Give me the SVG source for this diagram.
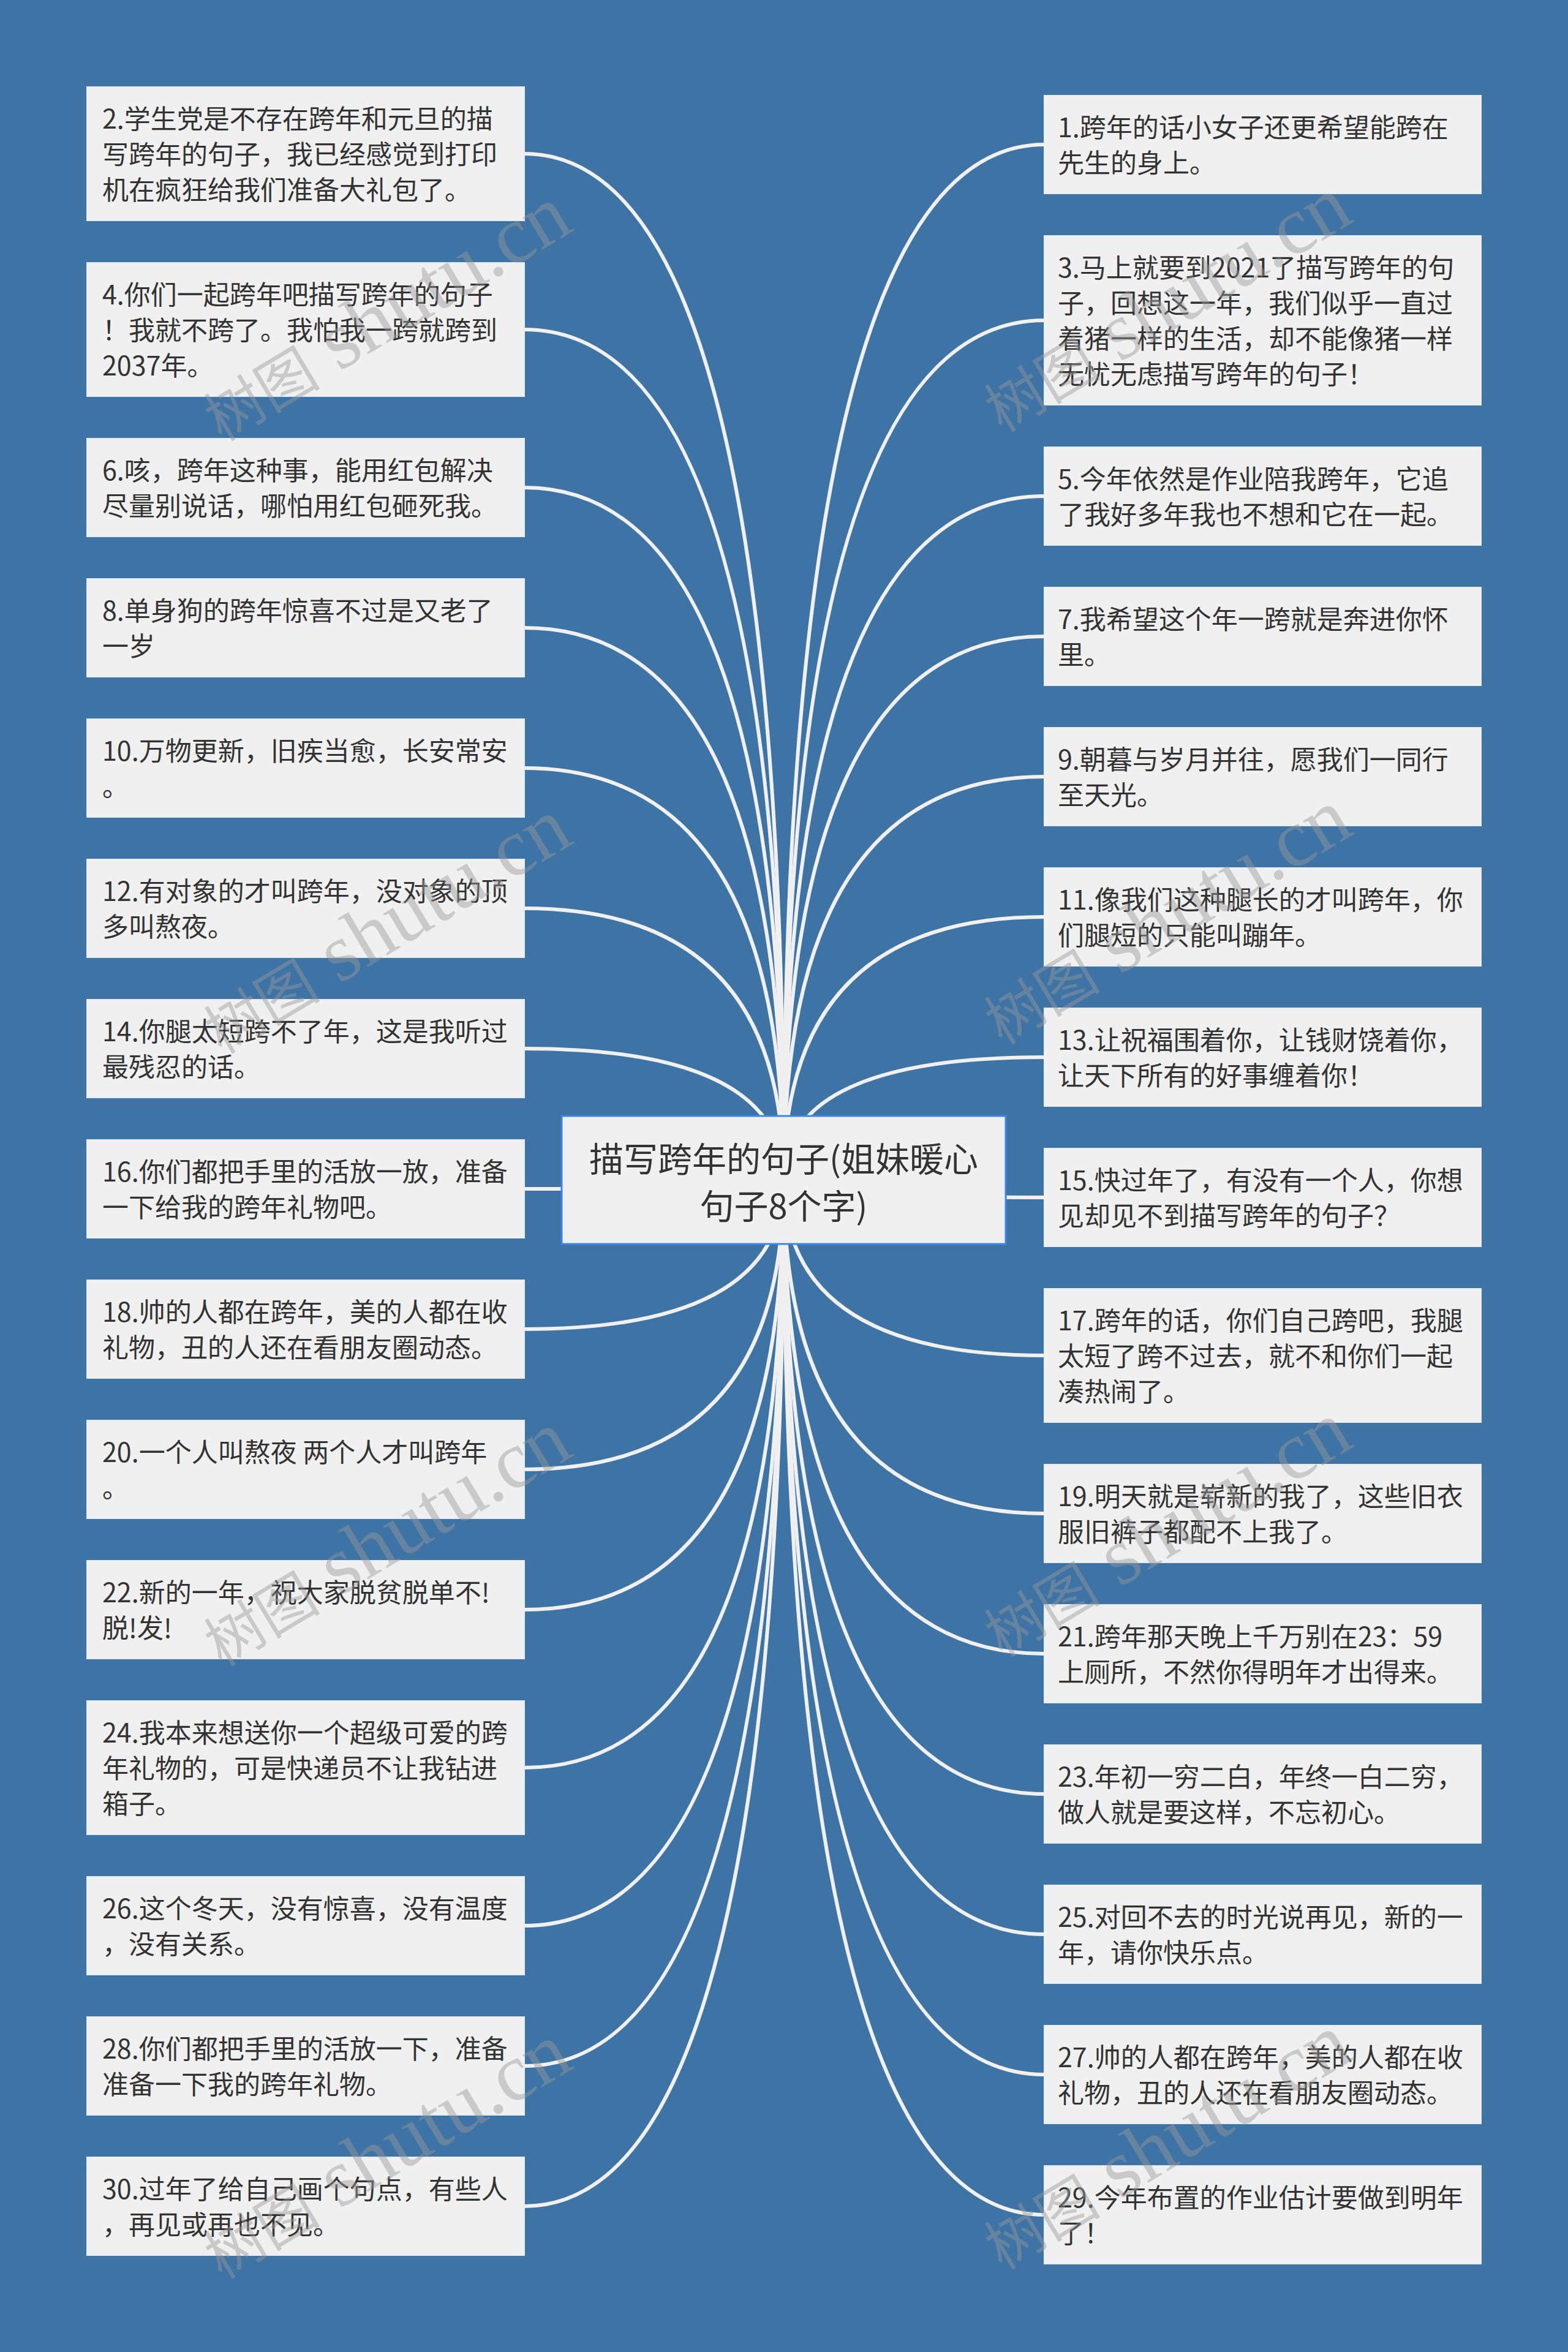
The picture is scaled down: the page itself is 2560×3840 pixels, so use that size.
<svg xmlns="http://www.w3.org/2000/svg" width="2560" height="3840" viewBox="0 0 2560 3840">
<style>
.bg{fill:#3d73a5}
.box{fill:#f0f0f0;stroke:#e6edf4;stroke-width:2}
.root{fill:#f0f0f0;stroke:#3c86e6;stroke-width:3}
.t{font-family:"Noto Sans CJK SC","Noto Sans",sans-serif;font-size:43px;fill:#333333}
.rt{font-family:"Noto Sans CJK SC","Noto Sans",sans-serif;font-size:56px;fill:#333333;text-anchor:middle}
.c{fill:none;stroke:#f0f0f0;stroke-width:6}
.wm{font-family:"Liberation Serif","Noto Sans CJK SC",serif;fill:#999999;fill-opacity:0.45}
</style>
<rect class="bg" x="0" y="0" width="2560" height="3840"/>
<g id="connectors">
<path class="c" d="M1279.5 1926.5 Q1279.5 251 856 251"/>
<path class="c" d="M1279.5 1926.5 Q1279.5 538 856 538"/>
<path class="c" d="M1279.5 1926.5 Q1279.5 796 856 796"/>
<path class="c" d="M1279.5 1926.5 Q1279.5 1025 856 1025"/>
<path class="c" d="M1279.5 1926.5 Q1279.5 1254 856 1254"/>
<path class="c" d="M1279.5 1926.5 Q1279.5 1483 856 1483"/>
<path class="c" d="M1279.5 1926.5 Q1279.5 1712 856 1712"/>
<path class="c" d="M1279.5 1926.5 Q1279.5 1941 856 1941"/>
<path class="c" d="M1279.5 1926.5 Q1279.5 2170 856 2170"/>
<path class="c" d="M1279.5 1926.5 Q1279.5 2399 856 2399"/>
<path class="c" d="M1279.5 1926.5 Q1279.5 2628 856 2628"/>
<path class="c" d="M1279.5 1926.5 Q1279.5 2886 856 2886"/>
<path class="c" d="M1279.5 1926.5 Q1279.5 3144 856 3144"/>
<path class="c" d="M1279.5 1926.5 Q1279.5 3373 856 3373"/>
<path class="c" d="M1279.5 1926.5 Q1279.5 3602 856 3602"/>
<path class="c" d="M1279.5 1926.5 Q1279.5 236 1705 236"/>
<path class="c" d="M1279.5 1926.5 Q1279.5 523 1705 523"/>
<path class="c" d="M1279.5 1926.5 Q1279.5 810 1705 810"/>
<path class="c" d="M1279.5 1926.5 Q1279.5 1039 1705 1039"/>
<path class="c" d="M1279.5 1926.5 Q1279.5 1268 1705 1268"/>
<path class="c" d="M1279.5 1926.5 Q1279.5 1497 1705 1497"/>
<path class="c" d="M1279.5 1926.5 Q1279.5 1726 1705 1726"/>
<path class="c" d="M1279.5 1926.5 Q1279.5 1955 1705 1955"/>
<path class="c" d="M1279.5 1926.5 Q1279.5 2213 1705 2213"/>
<path class="c" d="M1279.5 1926.5 Q1279.5 2471 1705 2471"/>
<path class="c" d="M1279.5 1926.5 Q1279.5 2700 1705 2700"/>
<path class="c" d="M1279.5 1926.5 Q1279.5 2929 1705 2929"/>
<path class="c" d="M1279.5 1926.5 Q1279.5 3158 1705 3158"/>
<path class="c" d="M1279.5 1926.5 Q1279.5 3387 1705 3387"/>
<path class="c" d="M1279.5 1926.5 Q1279.5 3616 1705 3616"/>
</g>
<g id="root">
<rect class="root" x="917" y="1822" width="725" height="209"/>
<text class="rt" x="1279.5" y="1913">描写跨年的句子(姐妹暖心</text>
<text class="rt" x="1279.5" y="1990">句子8个字)</text>
</g>
<g id="n2"><rect class="box" x="142" y="142" width="714" height="218"/>
<text class="t" x="167" y="210">2.学生党是不存在跨年和元旦的描</text>
<text class="t" x="167" y="268">写跨年的句子，我已经感觉到打印</text>
<text class="t" x="167" y="326">机在疯狂给我们准备大礼包了。</text></g>
<g id="n4"><rect class="box" x="142" y="429" width="714" height="218"/>
<text class="t" x="167" y="497">4.你们一起跨年吧描写跨年的句子</text>
<text class="t" x="167" y="555">！我就不跨了。我怕我一跨就跨到</text>
<text class="t" x="167" y="613">2037年。</text></g>
<g id="n6"><rect class="box" x="142" y="716" width="714" height="160"/>
<text class="t" x="167" y="784">6.咳，跨年这种事，能用红包解决</text>
<text class="t" x="167" y="842">尽量别说话，哪怕用红包砸死我。</text></g>
<g id="n8"><rect class="box" x="142" y="945" width="714" height="160"/>
<text class="t" x="167" y="1013">8.单身狗的跨年惊喜不过是又老了</text>
<text class="t" x="167" y="1071">一岁</text></g>
<g id="n10"><rect class="box" x="142" y="1174" width="714" height="160"/>
<text class="t" x="167" y="1242">10.万物更新，旧疾当愈，长安常安</text>
<text class="t" x="167" y="1300">。</text></g>
<g id="n12"><rect class="box" x="142" y="1403" width="714" height="160"/>
<text class="t" x="167" y="1471">12.有对象的才叫跨年，没对象的顶</text>
<text class="t" x="167" y="1529">多叫熬夜。</text></g>
<g id="n14"><rect class="box" x="142" y="1632" width="714" height="160"/>
<text class="t" x="167" y="1700">14.你腿太短跨不了年，这是我听过</text>
<text class="t" x="167" y="1758">最残忍的话。</text></g>
<g id="n16"><rect class="box" x="142" y="1861" width="714" height="160"/>
<text class="t" x="167" y="1929">16.你们都把手里的活放一放，准备</text>
<text class="t" x="167" y="1987">一下给我的跨年礼物吧。</text></g>
<g id="n18"><rect class="box" x="142" y="2090" width="714" height="160"/>
<text class="t" x="167" y="2158">18.帅的人都在跨年，美的人都在收</text>
<text class="t" x="167" y="2216">礼物，丑的人还在看朋友圈动态。</text></g>
<g id="n20"><rect class="box" x="142" y="2319" width="714" height="160"/>
<text class="t" x="167" y="2387">20.一个人叫熬夜 两个人才叫跨年</text>
<text class="t" x="167" y="2445">。</text></g>
<g id="n22"><rect class="box" x="142" y="2548" width="714" height="160"/>
<text class="t" x="167" y="2616">22.新的一年，祝大家脱贫脱单不!</text>
<text class="t" x="167" y="2674">脱!发!</text></g>
<g id="n24"><rect class="box" x="142" y="2777" width="714" height="218"/>
<text class="t" x="167" y="2845">24.我本来想送你一个超级可爱的跨</text>
<text class="t" x="167" y="2903">年礼物的，可是快递员不让我钻进</text>
<text class="t" x="167" y="2961">箱子。</text></g>
<g id="n26"><rect class="box" x="142" y="3064" width="714" height="160"/>
<text class="t" x="167" y="3132">26.这个冬天，没有惊喜，没有温度</text>
<text class="t" x="167" y="3190">，没有关系。</text></g>
<g id="n28"><rect class="box" x="142" y="3293" width="714" height="160"/>
<text class="t" x="167" y="3361">28.你们都把手里的活放一下，准备</text>
<text class="t" x="167" y="3419">准备一下我的跨年礼物。</text></g>
<g id="n30"><rect class="box" x="142" y="3522" width="714" height="160"/>
<text class="t" x="167" y="3590">30.过年了给自己画个句点，有些人</text>
<text class="t" x="167" y="3648">，再见或再也不见。</text></g>
<g id="n1"><rect class="box" x="1705" y="156" width="713" height="160"/>
<text class="t" x="1727" y="224">1.跨年的话小女子还更希望能跨在</text>
<text class="t" x="1727" y="282">先生的身上。</text></g>
<g id="n3"><rect class="box" x="1705" y="385" width="713" height="276"/>
<text class="t" x="1727" y="453">3.马上就要到2021了描写跨年的句</text>
<text class="t" x="1727" y="511">子，回想这一年，我们似乎一直过</text>
<text class="t" x="1727" y="569">着猪一样的生活，却不能像猪一样</text>
<text class="t" x="1727" y="627">无忧无虑描写跨年的句子！</text></g>
<g id="n5"><rect class="box" x="1705" y="730" width="713" height="160"/>
<text class="t" x="1727" y="798">5.今年依然是作业陪我跨年，它追</text>
<text class="t" x="1727" y="856">了我好多年我也不想和它在一起。</text></g>
<g id="n7"><rect class="box" x="1705" y="959" width="713" height="160"/>
<text class="t" x="1727" y="1027">7.我希望这个年一跨就是奔进你怀</text>
<text class="t" x="1727" y="1085">里。</text></g>
<g id="n9"><rect class="box" x="1705" y="1188" width="713" height="160"/>
<text class="t" x="1727" y="1256">9.朝暮与岁月并往，愿我们一同行</text>
<text class="t" x="1727" y="1314">至天光。</text></g>
<g id="n11"><rect class="box" x="1705" y="1417" width="713" height="160"/>
<text class="t" x="1727" y="1485">11.像我们这种腿长的才叫跨年，你</text>
<text class="t" x="1727" y="1543">们腿短的只能叫蹦年。</text></g>
<g id="n13"><rect class="box" x="1705" y="1646" width="713" height="160"/>
<text class="t" x="1727" y="1714">13.让祝福围着你，让钱财饶着你，</text>
<text class="t" x="1727" y="1772">让天下所有的好事缠着你！</text></g>
<g id="n15"><rect class="box" x="1705" y="1875" width="713" height="160"/>
<text class="t" x="1727" y="1943">15.快过年了，有没有一个人，你想</text>
<text class="t" x="1727" y="2001">见却见不到描写跨年的句子？</text></g>
<g id="n17"><rect class="box" x="1705" y="2104" width="713" height="218"/>
<text class="t" x="1727" y="2172">17.跨年的话，你们自己跨吧，我腿</text>
<text class="t" x="1727" y="2230">太短了跨不过去，就不和你们一起</text>
<text class="t" x="1727" y="2288">凑热闹了。</text></g>
<g id="n19"><rect class="box" x="1705" y="2391" width="713" height="160"/>
<text class="t" x="1727" y="2459">19.明天就是崭新的我了，这些旧衣</text>
<text class="t" x="1727" y="2517">服旧裤子都配不上我了。</text></g>
<g id="n21"><rect class="box" x="1705" y="2620" width="713" height="160"/>
<text class="t" x="1727" y="2688">21.跨年那天晚上千万别在23：59</text>
<text class="t" x="1727" y="2746">上厕所，不然你得明年才出得来。</text></g>
<g id="n23"><rect class="box" x="1705" y="2849" width="713" height="160"/>
<text class="t" x="1727" y="2917">23.年初一穷二白，年终一白二穷，</text>
<text class="t" x="1727" y="2975">做人就是要这样，不忘初心。</text></g>
<g id="n25"><rect class="box" x="1705" y="3078" width="713" height="160"/>
<text class="t" x="1727" y="3146">25.对回不去的时光说再见，新的一</text>
<text class="t" x="1727" y="3204">年，请你快乐点。</text></g>
<g id="n27"><rect class="box" x="1705" y="3307" width="713" height="160"/>
<text class="t" x="1727" y="3375">27.帅的人都在跨年，美的人都在收</text>
<text class="t" x="1727" y="3433">礼物，丑的人还在看朋友圈动态。</text></g>
<g id="n29"><rect class="box" x="1705" y="3536" width="713" height="160"/>
<text class="t" x="1727" y="3604">29.今年布置的作业估计要做到明年</text>
<text class="t" x="1727" y="3662">了！</text></g>
<g id="watermarks">
<text class="wm" transform="translate(362 722) rotate(-31)"><tspan font-size="95">树图</tspan><tspan font-size="134"> shutu.cn</tspan></text>
<text class="wm" transform="translate(362 1722) rotate(-31)"><tspan font-size="95">树图</tspan><tspan font-size="134"> shutu.cn</tspan></text>
<text class="wm" transform="translate(362 2722) rotate(-31)"><tspan font-size="95">树图</tspan><tspan font-size="134"> shutu.cn</tspan></text>
<text class="wm" transform="translate(362 3722) rotate(-31)"><tspan font-size="95">树图</tspan><tspan font-size="134"> shutu.cn</tspan></text>
<text class="wm" transform="translate(1636 707) rotate(-31)"><tspan font-size="95">树图</tspan><tspan font-size="134"> shutu.cn</tspan></text>
<text class="wm" transform="translate(1636 1707) rotate(-31)"><tspan font-size="95">树图</tspan><tspan font-size="134"> shutu.cn</tspan></text>
<text class="wm" transform="translate(1636 2707) rotate(-31)"><tspan font-size="95">树图</tspan><tspan font-size="134"> shutu.cn</tspan></text>
<text class="wm" transform="translate(1636 3707) rotate(-31)"><tspan font-size="95">树图</tspan><tspan font-size="134"> shutu.cn</tspan></text>
</g>
</svg>
